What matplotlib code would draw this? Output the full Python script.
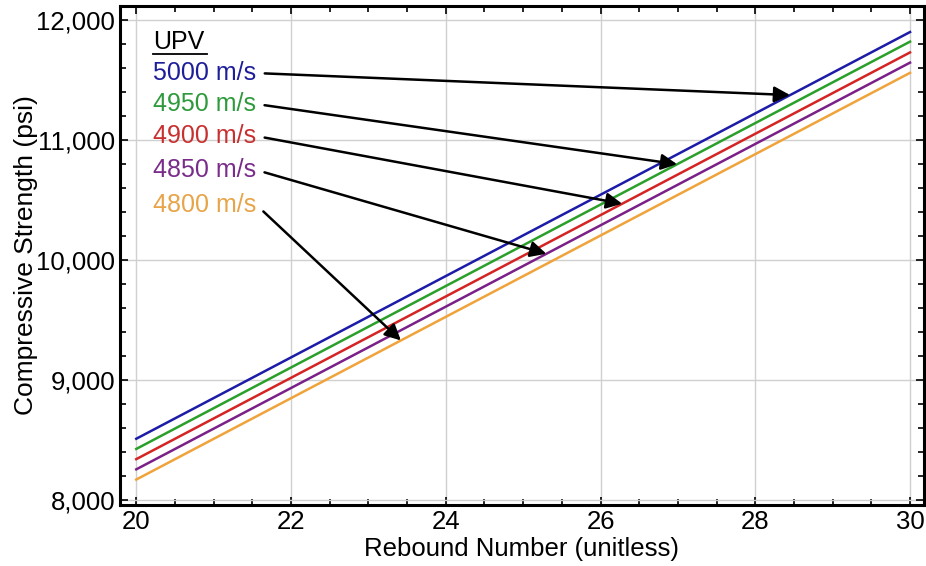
import numpy as np
import matplotlib.pyplot as plt
from matplotlib.ticker import MultipleLocator, FuncFormatter

plt.rcParams['font.family'] = ['Liberation Sans', 'DejaVu Sans']

# data
rebound = [20, 30]
upv_labels = ['5000 m/s', '4950 m/s', '4900 m/s', '4850 m/s', '4800 m/s']
strength = {
    '5000 m/s': [8510, 11900],
    '4950 m/s': [8425, 11820],
    '4900 m/s': [8340, 11730],
    '4850 m/s': [8255, 11645],
    '4800 m/s': [8170, 11560],
}
line_colors = ['#1c1ca8', '#2aa02a', '#d42424', '#7a2088', '#f0a33a']
text_colors = ['#1e1e9a', '#2e9a3c', '#c83030', '#7a2c8a', '#e8a448']
# where each arrow points (rebound number on the line)
arrow_at = [28.45, 26.99, 26.28, 25.30, 23.42]
label_y = [11558, 11300, 11033, 10750, 10458]

fig = plt.figure(figsize=(9.26, 5.66), dpi=100)
ax = fig.add_axes([0.1296, 0.1078, 0.8682, 0.8816])

for lab, c in zip(upv_labels, line_colors):
    ax.plot(rebound, strength[lab], color=c, lw=1.8, zorder=3)

for lab, tc, xa, ly in zip(upv_labels, text_colors, arrow_at, label_y):
    ya = np.interp(xa, rebound, strength[lab])
    ax.annotate(lab, xy=(xa, ya), xytext=(20.22, ly), color=tc, fontsize=18,
                ha='left', va='center', zorder=5,
                arrowprops=dict(arrowstyle='-|>', color='black', lw=1.8,
                                mutation_scale=24, relpos=(1, 0.5),
                                shrinkA=4, shrinkB=0))

ax.text(20.22, 11818, 'UPV', fontsize=18, ha='left', va='center')
ax.plot([20.22, 20.92], [11718, 11718], color='black', lw=1.3)

ax.set_xlim(19.79, 30.18)
ax.set_ylim(7958, 12117)
ax.xaxis.set_major_locator(MultipleLocator(2))
ax.xaxis.set_minor_locator(MultipleLocator(0.5))
ax.yaxis.set_major_locator(MultipleLocator(1000))
ax.yaxis.set_minor_locator(MultipleLocator(200))
ax.yaxis.set_major_formatter(FuncFormatter(lambda v, p: f'{int(v):,}'))
ax.tick_params(which='both', direction='in', top=True, right=True,
               labelsize=18.5, width=1.2)
ax.tick_params(which='major', length=6)
ax.tick_params(which='minor', length=4)
ax.grid(True, which='major', color='#d0d0d0', lw=1)
for s in ax.spines.values():
    s.set_linewidth(2.2)

ax.set_xlabel('Rebound Number (unitless)', fontsize=18.5, labelpad=2)
ax.set_ylabel('Compressive Strength (psi)', fontsize=19, labelpad=-1)

fig.savefig('out.png', dpi=100)
